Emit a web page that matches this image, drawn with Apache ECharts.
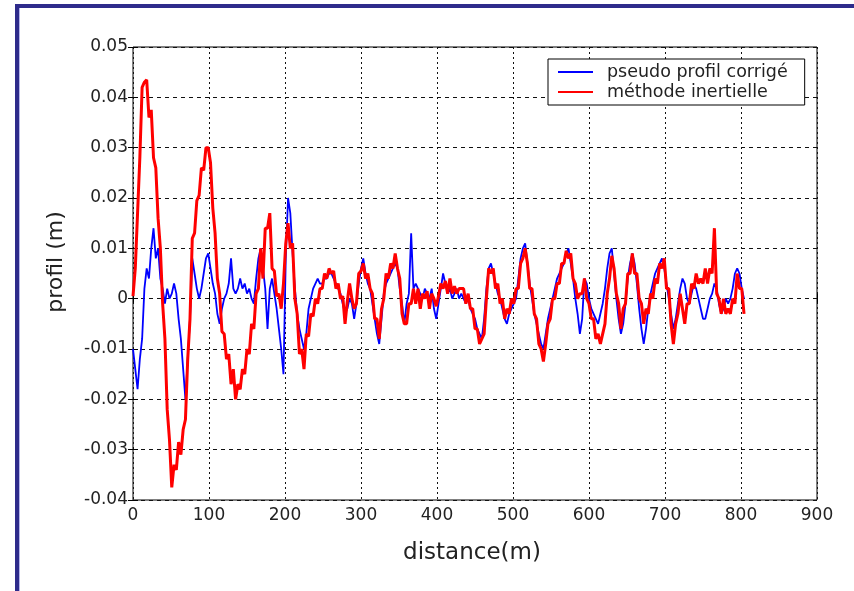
<!DOCTYPE html>
<html>
<head>
<meta charset="utf-8">
<script src="https://cdn.jsdelivr.net/npm/echarts@6/dist/echarts.min.js"></script>
<style>
html,body{margin:0;padding:0;background:#fff;}
#chart{width:854px;height:591px;}
</style>
</head>
<body>
<div id="chart"></div>
<script>
// sampling step of both profiles (m)
const stepM = 3;
const seriesNames = ['pseudo profil corrigé', 'méthode inertielle'];
const xTicks = [0, 100, 200, 300, 400, 500, 600, 700, 800, 900];
const yTicks = [-0.04, -0.03, -0.02, -0.01, 0, 0.01, 0.02, 0.03, 0.04, 0.05];
// pseudo profil corrigé (mm), one value every 3 m from 0 m
const pseudoMm = [
  -10, -14, -18, -12, -8, 2, 6, 4, 10, 14,
  8, 10, 4, 2, -1, 2, 0, 1, 3, 1,
  -4, -8, -14, -20, -12, -4, 8, 5, 2, 0,
  2, 5, 8, 9, 6, 3, 1, -3, -5, -2,
  0, 1, 3, 8, 2, 1, 2, 4, 2, 3,
  1, 2, 0, -1, 4, 8, 10, 6, 2, -6,
  2, 4, 1, -2, -6, -10, -15, 8, 20, 17,
  9, 2, -3, -6, -8, -10, -7, -2, 0, 2,
  3, 4, 3, 3, 4, 4, 5, 5, 4, 3,
  2, 1, -1, -3, -2, 0, -1, -4, -1, 3,
  6, 8, 5, 3, 2, -1, -4, -7, -9, -4,
  1, 3, 4, 5, 6, 7, 6, 2, -1, -5,
  -1, 1, 13, 2, 3, 2, 1, 0, 2, 1,
  0, 2, -2, -4, -1, 2, 5, 3, 1, 2,
  0, 1, 2, 0, 1, 0, -1, 0, -2, -3,
  -4, -6, -7, -8, -4, 2, 6, 7, 5, 3,
  1, 0, -2, -4, -5, -3, -2, -1, 0, 4,
  8, 10, 11, 7, 3, 0, -3, -5, -7, -9,
  -10, -7, -4, -2, 0, 2, 4, 5, 6, 7,
  9, 10, 7, 4, 0, -3, -7, -4, 4, 3,
  0, -2, -3, -4, -5, -3, -1, 2, 6, 9,
  10, 5, 0, -4, -7, -5, -1, 4, 7, 9,
  7, 3, -2, -6, -9, -6, -2, 1, 3, 5,
  6, 7, 8, 6, 3, 0, -3, -6, -4, -1,
  2, 4, 3, 0, -1, 1, 3, 2, 0, -2,
  -4, -4, -2, 0, 1, 3, 2, -1, -3, -2,
  0, -1, 0, 2, 5, 6, 5, 2, 0
];
// méthode inertielle (mm), one value every 3 m from 0 m
const inertielleMm = [
  0.5, 6, 17, 28, 42, 43, 43.5, 36, 37.5, 28,
  26, 16, 10, -1, -8, -22, -28, -37.5, -33, -34,
  -28.5, -31, -26, -24, -12, -4, 12, 13, 19.5, 20.5,
  26, 25.5, 30, 30, 27, 18, 13, 4, 1, -6.5,
  -7, -12, -11, -17, -14, -20, -17, -18, -14, -15,
  -10, -11, -5, -6, 1, 2, 10, 4, 14, 14,
  17, 6, 5.5, 0.5, 1, -2, 3, 11, 15, 10,
  11, 0, -3, -11, -10, -14, -7, -7.5, -3, -3.5,
  0, -1, 2, 2, 5, 4, 6, 5, 5.5, 2,
  3, 0, 0.5, -5, -0.5, 3, 0, -2, -1, 5,
  5.5, 7, 4, 5, 2, 1, -4, -4, -8, -2,
  0, 5, 4, 7, 6, 9, 6, 4, -3, -5,
  -5, -1, -1, 2, -1, 2, -2, 1, 0, 1.5,
  -2, 1, 0, -1.5, 0.5, 3, 2, 3.5, 1, 4,
  1, 2.5, 1, 2, 2, 2, -1, 1, -2, -2,
  -6, -6, -9, -8, -7, 0, 6, 5, 6, 2,
  3, -1, 0, -4, -2, -3, 0, -1, 2, 2,
  7, 8, 10, 7, 2, 2, -3, -4, -9, -10,
  -12.5, -9, -5, -4, 0, 0, 3, 3, 7, 7,
  9.5, 8, 9, 4, 3, 0, 1, 1, 4, 0,
  -1, -4, -4, -8, -7, -9, -7, -5, 1, 4,
  8.5, 6, 1, -1, -6, -2, -1, 5, 5, 9,
  5, 5, 0, -1, -5, -2, -3, 1, 0, 4,
  3, 7, 6, 8, 2, 2, -5, -9, -5, -3,
  1, -2, -5, -1, -1, 3, 2, 5, 3, 4,
  3, 6, 3, 6, 5, 14, 1, 0, -3, 0,
  -3, -2, -3, 0, -1, 5, 2, 2, -3
];

const toPairs = arr => arr.map((v, i) => [i * stepM, v / 1000]);
const fmtY = v => (Math.abs(v) < 1e-9 ? '0' : (Math.round(v * 100) / 100).toFixed(2));

const chart = echarts.init(document.getElementById('chart'), null, {renderer: 'canvas'});
const labelFont = {fontFamily: 'DejaVu Sans', fontSize: 17, color: '#222'};
const xBase = {
  type: 'value', min: xTicks[0], max: xTicks[xTicks.length - 1], interval: 100,
  axisLine: {show: false},
  axisTick: {show: true, inside: true, length: 5, lineStyle: {color: '#000', width: 1}},
  splitLine: {show: false}
};
const yBase = {
  type: 'value', min: yTicks[0], max: yTicks[yTicks.length - 1], interval: 0.01,
  axisLine: {show: false},
  axisTick: {show: true, inside: true, length: 5, lineStyle: {color: '#000', width: 1}},
  splitLine: {show: false}
};

chart.setOption({
  animation: false,
  backgroundColor: '#fff',
  grid: {left: 133, right: 37, top: 47, bottom: 91, show: true, borderColor: '#000', borderWidth: 1, backgroundColor: '#fff'},
  xAxis: [
    Object.assign({}, xBase, {
      position: 'bottom',
      axisLabel: Object.assign({margin: 7}, labelFont),
      splitLine: {show: true, lineStyle: {color: '#111', width: 1, type: [2, 3]}}
    }),
    Object.assign({}, xBase, {position: 'top', axisLabel: {show: false}})
  ],
  yAxis: [
    Object.assign({}, yBase, {
      position: 'left',
      axisLabel: Object.assign({margin: 5, formatter: fmtY}, labelFont),
      splitLine: {show: true, lineStyle: {color: '#111', width: 1, type: [4, 4]}}
    }),
    Object.assign({}, yBase, {position: 'right', axisLabel: {show: false}})
  ],
  legend: {
    left: 548, top: 59,
    orient: 'vertical',
    padding: [3, 17, 3, 10],
    itemGap: 0,
    itemWidth: 35, itemHeight: 2,
    icon: 'rect',
    backgroundColor: '#fff',
    borderColor: '#000', borderWidth: 1,
    textStyle: {fontFamily: 'DejaVu Sans', fontSize: 17.5, color: '#222', lineHeight: 20, padding: [0, 0, 0, 9]},
    data: seriesNames
  },
  series: [
    {name: seriesNames[0], type: 'line', data: toPairs(pseudoMm), showSymbol: false, symbol: 'none',
     lineStyle: {color: '#0000ff', width: 1.8}, itemStyle: {color: '#0000ff'}, z: 2},
    {name: seriesNames[1], type: 'line', data: toPairs(inertielleMm), showSymbol: false, symbol: 'none',
     lineStyle: {color: '#ff0000', width: 3}, itemStyle: {color: '#ff0000'}, z: 3}
  ],
  graphic: [
    {type: 'rect', left: 15, top: 4, shape: {width: 839, height: 4}, style: {fill: '#2e2b8b'}, z: 100},
    {type: 'rect', left: 15, top: 4, shape: {width: 4, height: 587}, style: {fill: '#2e2b8b'}, z: 100},
    {type: 'rect', left: 19, top: 8, shape: {width: 1, height: 583}, style: {fill: '#b4b4ea'}, z: 100},
    {type: 'text', x: 56, y: 262, rotation: Math.PI / 2,
     style: {text: 'profil (m)', fontFamily: 'DejaVu Sans', fontSize: 22, fill: '#222', textAlign: 'center', textVerticalAlign: 'middle'}},
    {type: 'text', x: 472, y: 553,
     style: {text: 'distance(m)', fontFamily: 'DejaVu Sans', fontSize: 23, fill: '#222', textAlign: 'center', textVerticalAlign: 'middle'}}
  ]
});
</script>
</body>
</html>
